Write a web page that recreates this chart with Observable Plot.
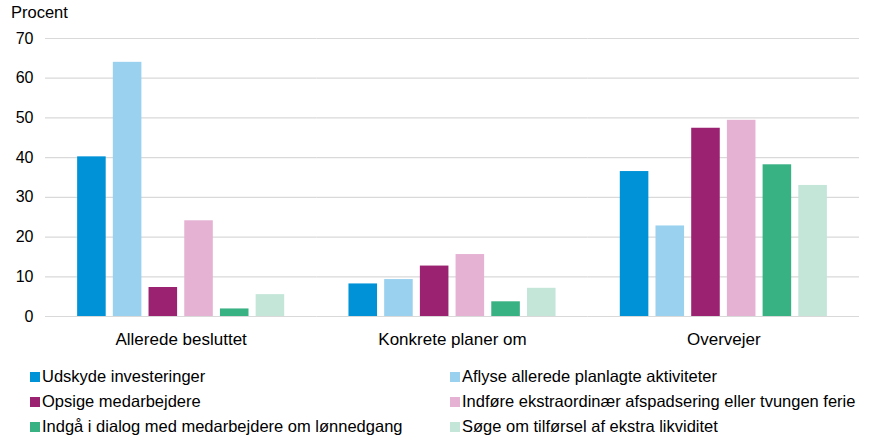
<!DOCTYPE html>
<html><head><meta charset="utf-8">
<script src="https://cdn.jsdelivr.net/npm/d3@7"></script>
<script src="https://cdn.jsdelivr.net/npm/@observablehq/plot@0.6"></script>
<style>
body{margin:0;background:#fff;font-family:"Liberation Sans",Arial,sans-serif;}
#ylabel{height:24px;line-height:24px;font-size:16.5px;padding-left:11px;color:#000;}
#legend{display:grid;grid-template-columns:420px 420px;padding-left:30px;margin-top:0;}
.item{display:flex;align-items:center;height:25px;font-size:16.5px;color:#000;white-space:nowrap;}
.sw{width:10px;height:10px;margin-right:2px;flex:none;}
</style></head>
<body><div id="ylabel"></div><div id="chart"></div><div id="legend"></div>
<script>
const groups = ["Allerede besluttet", "Konkrete planer om", "Overvejer"];
const series = ["Udskyde investeringer", "Aflyse allerede planlagte aktiviteter", "Opsige medarbejdere", "Indføre ekstraordinær afspadsering eller tvungen ferie", "Indgå i dialog med medarbejdere om lønnedgang", "Søge om tilførsel af ekstra likviditet"];
const colors = ["#0092d6", "#9ad1ef", "#9a2270", "#e5b2d4", "#38b183", "#c3e6d9"];
const udskyde = [40.2, 8.2, 36.5];
const aflyse = [64.0, 9.3, 22.8];
const opsige = [7.3, 12.7, 47.4];
const indfoere = [24.1, 15.6, 49.4];
const indgaa = [1.9, 3.7, 38.2];
const soege = [5.5, 7.1, 33.0];
const yTicks = [0, 10, 20, 30, 40, 50, 60, 70];
const yLabel = "Procent";

const valuesBySeries = [udskyde, aflyse, opsige, indfoere, indgaa, soege];
const data = [];
series.forEach((s, i) => groups.forEach((g, j) => data.push({group: g, series: s, value: valuesBySeries[i][j]})));

document.getElementById("ylabel").textContent = yLabel;

const plot = Plot.plot({
  width: 869, height: 340,
  marginLeft: 45, marginRight: 10, marginTop: 14, marginBottom: 48,
  style: {fontFamily: "'Liberation Sans', Arial, sans-serif", fontSize: "16px", color: "#000"},
  fx: {domain: groups, padding: 0, round: false, label: null, axis: null},
  x: {domain: series, paddingInner: 0.2, paddingOuter: 0.9, round: false, axis: null},
  y: {domain: [0, 70], ticks: yTicks, label: null, axis: null},
  color: {domain: series, range: colors},
  marks: [
    Plot.gridY(yTicks, {stroke: "#d9d9d9", strokeOpacity: 1, strokeWidth: 1.2}),
    Plot.axisY(yTicks, {tickSize: 0, tickPadding: 12, fontSize: 16, label: null}),
    Plot.axisFx({anchor: "bottom", tickSize: 0, tickPadding: 16, fontSize: 17, label: null}),
    Plot.barY(data, {fx: "group", x: "series", y: "value", fill: "series"})
  ]
});
document.getElementById("chart").append(plot);

const leg = document.getElementById("legend");
series.forEach((s, i) => {
  const d = document.createElement("div"); d.className = "item";
  const sw = document.createElement("span"); sw.className = "sw"; sw.style.background = colors[i];
  d.append(sw, document.createTextNode(s)); leg.append(d);
});
</script></body></html>
